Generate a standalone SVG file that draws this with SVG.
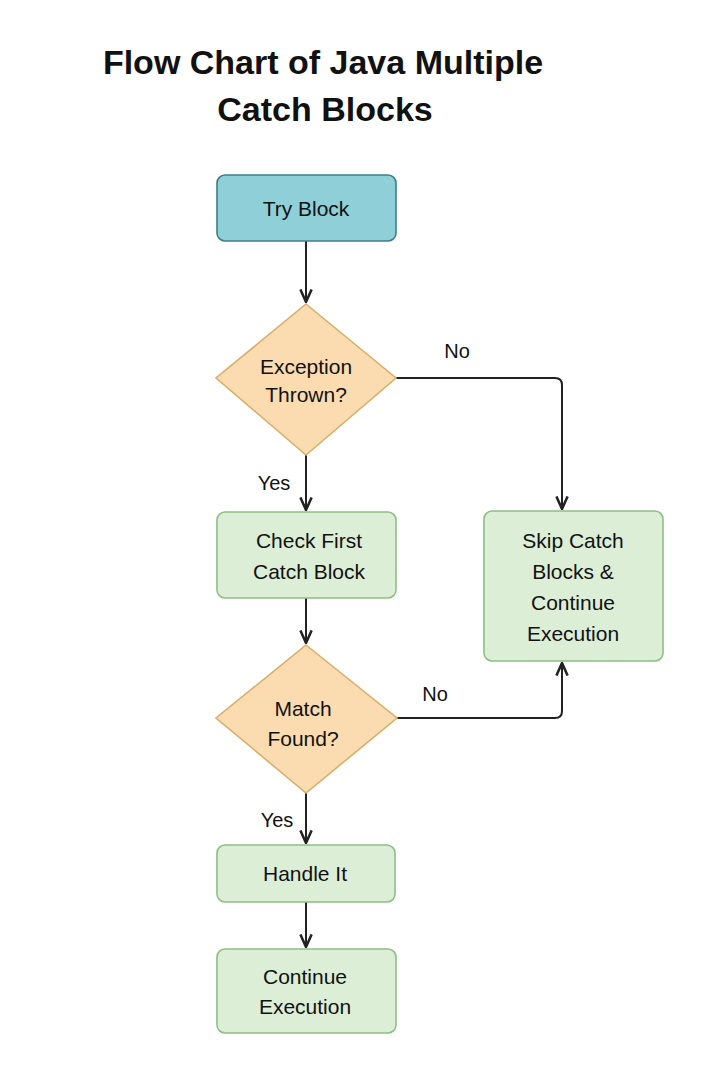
<svg xmlns="http://www.w3.org/2000/svg" width="720" height="1080" viewBox="0 0 720 1080">
<style>
text{font-family:"Liberation Sans","Noto Sans",sans-serif;fill:#111;text-anchor:middle}
.t{font-size:34px;font-weight:bold}
.n{font-size:21px}
.l{font-size:20px}
.box{fill:#dcefd6;stroke:#8cbf84;stroke-width:1.6}
.try{fill:#8fd0d8;stroke:#3f7f89;stroke-width:1.6}
.dia{fill:#fbdcb0;stroke:#d9ae6a;stroke-width:1.6}
.c{fill:none;stroke:#222;stroke-width:2}
</style>
<defs><marker id="a" viewBox="0 0 10 10" refX="9" refY="5" markerWidth="7" markerHeight="7" orient="auto"><path d="M0,1 L9,5 L0,9" fill="none" stroke="#222" stroke-width="1.8"/></marker></defs>
<rect width="720" height="1080" fill="#fff"/>
<g id="title"><text class="t" x="323" y="74">Flow Chart of Java Multiple</text><text class="t" x="325" y="121">Catch Blocks</text></g>
<g id="connectors">
<path class="c" d="M306,241 V302" marker-end="url(#a)"/>
<path class="c" d="M306,455 V510" marker-end="url(#a)"/>
<path class="c" d="M396,378 H555 Q562,378 562,385 V509" marker-end="url(#a)"/>
<path class="c" d="M306,598 V643" marker-end="url(#a)"/>
<path class="c" d="M397,718 H555 Q562,718 562,711 V663" marker-end="url(#a)"/>
<path class="c" d="M306,793 V843" marker-end="url(#a)"/>
<path class="c" d="M306,902 V947" marker-end="url(#a)"/>
<text class="l" x="457" y="358">No</text>
<text class="l" x="274" y="490">Yes</text>
<text class="l" x="435" y="701">No</text>
<text class="l" x="277" y="827">Yes</text>
</g>
<g id="try"><rect class="try" x="217" y="175" width="179" height="66" rx="8"/><text class="n" x="306" y="216">Try Block</text></g>
<g id="exc"><polygon class="dia" points="306,304 396,378 306,455 216,378"/><text class="n" x="306" y="374">Exception</text><text class="n" x="306" y="402">Thrown?</text></g>
<g id="check"><rect class="box" x="217" y="512" width="179" height="86" rx="8"/><text class="n" x="309" y="548">Check First</text><text class="n" x="309" y="579">Catch Block</text></g>
<g id="skip"><rect class="box" x="484" y="511" width="179" height="150" rx="8"/><text class="n" x="573" y="548">Skip Catch</text><text class="n" x="573" y="579">Blocks &amp;</text><text class="n" x="573" y="610">Continue</text><text class="n" x="573" y="641">Execution</text></g>
<g id="match"><polygon class="dia" points="306,645 397,718 306,793 216,718"/><text class="n" x="303" y="716">Match</text><text class="n" x="303" y="746">Found?</text></g>
<g id="handle"><rect class="box" x="217" y="845" width="178" height="57" rx="8"/><text class="n" x="305" y="881">Handle It</text></g>
<g id="cont"><rect class="box" x="217" y="949" width="179" height="84" rx="8"/><text class="n" x="305" y="984">Continue</text><text class="n" x="305" y="1014">Execution</text></g>
</svg>
